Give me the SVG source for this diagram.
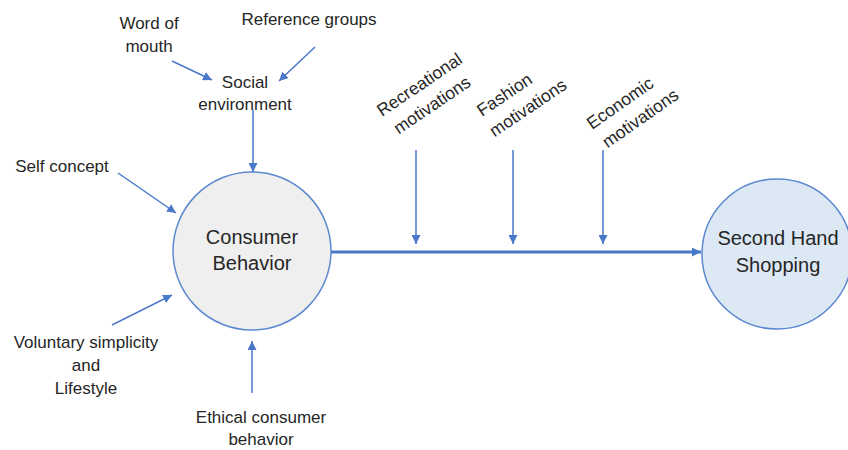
<svg xmlns="http://www.w3.org/2000/svg" width="848" height="450" viewBox="0 0 848 450">
<style>
text{font-family:"Liberation Sans",Arial,sans-serif;font-size:17px;fill:#262626}
.c{text-anchor:middle}
.big{font-size:20px}
.rot{font-size:17.5px}
.ar{stroke:#4a78c8;stroke-width:1.5;fill:none;marker-end:url(#ah)}
.main{stroke:#4a78c8;stroke-width:3;fill:none;marker-end:url(#ahb)}
</style>
<defs>
<marker id="ah" viewBox="0 0 10 10" refX="10" refY="5" markerWidth="6" markerHeight="6" orient="auto" markerUnits="strokeWidth"><path d="M0,0 L10,5 L0,10 z" fill="#4a78c8"/></marker>
<marker id="ahb" viewBox="0 0 10 10" refX="10" refY="5" markerWidth="3.5" markerHeight="3" orient="auto" markerUnits="strokeWidth"><path d="M0,0 L10,5 L0,10 z" fill="#4a78c8"/></marker>
</defs>
<rect width="848" height="450" fill="#fff"/>
<g id="connectors">
<line class="ar" x1="172" y1="61" x2="212" y2="80"/>
<line class="ar" x1="315" y1="47" x2="279" y2="81"/>
<line class="ar" x1="253" y1="110" x2="253" y2="172"/>
<line class="ar" x1="118" y1="173" x2="176" y2="213"/>
<line class="ar" x1="112" y1="325" x2="172" y2="295"/>
<line class="ar" x1="252" y1="393" x2="252" y2="341"/>
<line class="ar" x1="416" y1="150" x2="416" y2="244"/>
<line class="ar" x1="513" y1="150" x2="513" y2="244"/>
<line class="ar" x1="603" y1="150" x2="603" y2="244"/>
<line class="main" x1="331" y1="252" x2="701" y2="252"/>
</g>
<g id="consumer-behavior">
<circle cx="252" cy="251" r="79" fill="#efefef" stroke="#5b88cf" stroke-width="1.5"/>
<text class="c big" x="252" y="244">Consumer</text>
<text class="c big" x="252" y="270">Behavior</text>
</g>
<g id="second-hand">
<circle cx="777" cy="254" r="75" fill="#dde8f5" stroke="#5b88cf" stroke-width="1.5"/>
<text class="c big" x="778" y="245">Second Hand</text>
<text class="c big" x="778" y="272">Shopping</text>
</g>
<g id="word-of-mouth"><text class="c" x="149" y="29">Word of</text><text class="c" x="149" y="52">mouth</text></g>
<g id="reference-groups"><text class="c" x="309" y="25">Reference groups</text></g>
<g id="social-environment"><text class="c" x="245" y="88">Social</text><text class="c" x="245" y="110">environment</text></g>
<g id="self-concept"><text class="c" x="62" y="172">Self concept</text></g>
<g id="voluntary-simplicity"><text class="c" x="86" y="348">Voluntary simplicity</text><text class="c" x="86" y="371">and</text><text class="c" x="86" y="394">Lifestyle</text></g>
<g id="ethical-consumer"><text class="c" x="261" y="423">Ethical consumer</text><text class="c" x="261" y="445">behavior</text></g>
<g id="recreational" transform="translate(382,117) rotate(-34)"><text class="rot" x="0" y="0">Recreational</text><text class="rot" x="4" y="24">motivations</text></g>
<g id="fashion" transform="translate(482,117) rotate(-34)"><text class="rot" x="0" y="0">Fashion</text><text class="rot" x="-1" y="24">motivations</text></g>
<g id="economic" transform="translate(592,130) rotate(-35)"><text class="rot" x="0" y="0">Economic</text><text class="rot" x="2" y="24">motivations</text></g>
</svg>
